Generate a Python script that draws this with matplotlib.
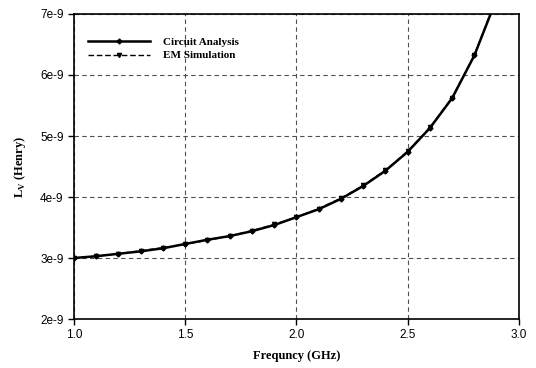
import matplotlib
matplotlib.use("Agg")
import matplotlib.pyplot as plt
import numpy as np

# frequency in GHz, inductance in Henry
freq = [1.0, 1.1, 1.2, 1.3, 1.4, 1.5, 1.6, 1.7, 1.8, 1.9, 2.0,
        2.1, 2.2, 2.3, 2.4, 2.5, 2.6, 2.7, 2.8, 2.9]
circuit = [3.00, 3.03, 3.07, 3.11, 3.16, 3.23, 3.30, 3.36, 3.44, 3.54, 3.67,
           3.80, 3.97, 4.18, 4.43, 4.74, 5.13, 5.62, 6.32, 7.25]
em_sim = [3.00, 3.03, 3.07, 3.12, 3.17, 3.23, 3.29, 3.36, 3.45, 3.55, 3.67,
          3.81, 3.98, 4.19, 4.44, 4.75, 5.14, 5.63, 6.33, 7.27]

y_ticks = [2e-9, 3e-9, 4e-9, 5e-9, 6e-9, 7e-9]
y_tick_labels = ["2e-9", "3e-9", "4e-9", "5e-9", "6e-9", "7e-9"]
x_ticks = [1.0, 1.5, 2.0, 2.5, 3.0]
x_tick_labels = ["1.0", "1.5", "2.0", "2.5", "3.0"]

fig = plt.figure(figsize=(5.36, 3.68), dpi=100)
ax = fig.add_axes([0.138, 0.133, 0.830, 0.829])

serif = ["Liberation Serif", "DejaVu Serif"]
sans = ["Liberation Sans", "DejaVu Sans"]

ax.plot(freq, np.array(circuit) * 1e-9, color="black", lw=1.8,
        marker="D", ms=2.5, label="Circuit Analysis", zorder=3)
ax.plot(freq, np.array(em_sim) * 1e-9, color="black", lw=1.0, ls=(0, (4, 2)),
        marker="v", ms=3, label="EM Simulation", zorder=4)

ax.set_xlim(1.0, 3.0)
ax.set_ylim(2e-9, 7e-9)
ax.set_xticks(x_ticks)
ax.set_xticklabels(x_tick_labels, family=sans, fontsize=8.5)
ax.set_yticks(y_ticks)
ax.set_yticklabels(y_tick_labels, family=sans, fontsize=8.5)
ax.tick_params(direction="out", length=4, width=1, colors="black")

ax.grid(True, color="#505050", ls=(0, (4, 3)), lw=0.8)
ax.set_axisbelow(True)
for s in ax.spines.values():
    s.set_linewidth(1.2)

ax.set_xlabel("Frequncy (GHz)", family=serif, fontweight="bold", fontsize=9, labelpad=6)
ax.set_ylabel(r"L$_\mathregular{V}$ (Henry)", family=serif, fontweight="bold",
              fontsize=9, labelpad=9)

ax.legend(loc="upper left", frameon=False, handlelength=5.5, handletextpad=1.2,
          prop={"family": serif, "weight": "bold", "size": 8},
          bbox_to_anchor=(0.0, 0.97), borderaxespad=0.9, labelspacing=0.3)

fig.savefig("out.png", dpi=100)
